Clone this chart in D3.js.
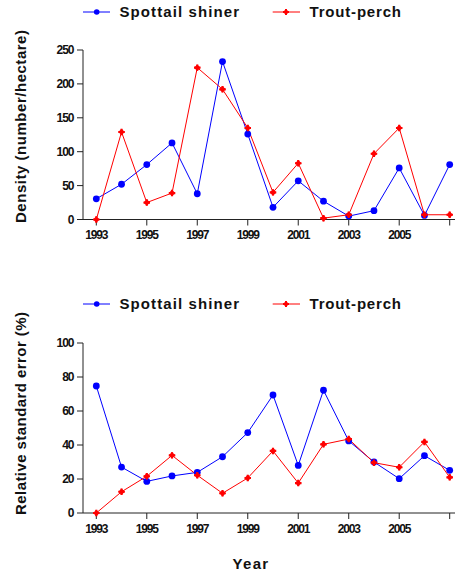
<!DOCTYPE html>
<html><head><meta charset="utf-8">
<script src="https://cdn.jsdelivr.net/npm/d3@7"></script>
<style>
body{margin:0;background:#fff;}
svg{display:block;font-family:"Liberation Sans",Arial,sans-serif;}
</style></head>
<body><svg id="c" width="456" height="575"></svg>
<script>
const years = [1993,1994,1995,1996,1997,1998,1999,2000,2001,2002,2003,2004,2005,2006,2007];
const tickYears = [1993,1995,1997,1999,2001,2003,2005,2007];
const tickLabels = ["1993","1995","1997","1999","2001","2003","2005",""];
const densitySpottail = [30.5,52,81,113,38,233,126,18,57,27,5,13,76,6,81];
const densityTrout = [0,129,25,39,224,192,135,40,83,2,7,97,135,7,7];
const rseSpottail = [74.7,27,18.6,21.8,23.9,33.1,47.3,69.4,28,72.2,42.4,30,20.2,33.7,25.1];
const rseTrout = [0,12.5,21.6,33.9,22.2,11.6,20.6,36.5,17.6,40.4,43.5,29.6,26.9,41.8,21];
const densityTicks = [0,50,100,150,200,250];
const rseTicks = [0,20,40,60,80,100];
const seriesNames = ["Spottail shiner","Trout-perch"];
const colors = ["#0000ff","#ff0000"];

const svg = d3.select("#c");
const x = d3.scaleLinear().domain([1993,2007]).range([96.3,449.7]);

function redMarker(g, cx, cy, s){
  g.append("path").attr("d", d3.symbol(d3.symbolSquare, s*s)())
    .attr("transform", `translate(${cx},${cy}) rotate(45)`).attr("fill", colors[1]);
  g.append("path").attr("d", d3.symbol(d3.symbolCross, s*s*1.1)())
    .attr("transform", `translate(${cx},${cy})`).attr("fill", colors[1]);
}

function legend(yb){
  const g = svg.append("g");
  const yl = yb - 5;
  g.append("line").attr("x1",83).attr("x2",110).attr("y1",yl).attr("y2",yl).attr("stroke",colors[0]).attr("stroke-width",1);
  g.append("circle").attr("cx",96.7).attr("cy",yl).attr("r",2.8).attr("fill",colors[0]);
  g.append("text").attr("x",119.5).attr("y",yb).text(seriesNames[0])
    .attr("font-size",15).attr("font-weight","bold").attr("textLength",119.5).attr("lengthAdjust","spacing").attr("fill","#111");
  g.append("line").attr("x1",272.7).attr("x2",300).attr("y1",yl).attr("y2",yl).attr("stroke",colors[1]).attr("stroke-width",1);
  redMarker(g, 286, yl, 4.2);
  g.append("text").attr("x",309.5).attr("y",yb).text(seriesNames[1])
    .attr("font-size",15).attr("font-weight","bold").attr("textLength",91.5).attr("lengthAdjust","spacing").attr("fill","#111");
}

function panel(y, ticks, s1, s2, label, labelCenter, labelLen){
  const g = svg.append("g");
  const y0 = y.range()[0], yTop = y.range()[1];
  g.append("line").attr("x1",83).attr("x2",83).attr("y1",yTop).attr("y2",y0).attr("stroke","#222");
  ticks.forEach(t=>{
    g.append("line").attr("x1",77).attr("x2",83).attr("y1",y(t)).attr("y2",y(t)).attr("stroke","#222");
    g.append("text").attr("x",73.5).attr("y",y(t)+4.3).attr("text-anchor","end").text(t)
      .attr("font-size",12).attr("font-weight","bold").attr("letter-spacing","-1").attr("fill","#111");
  });
  g.append("line").attr("x1",83).attr("x2",455).attr("y1",y0).attr("y2",y0).attr("stroke","#222");
  tickYears.forEach((t,i)=>{
    g.append("line").attr("x1",x(t)).attr("x2",x(t)).attr("y1",y0).attr("y2",y0+6).attr("stroke","#222");
    g.append("text").attr("x",x(t)).attr("y",y0+19.5).attr("text-anchor","middle").text(tickLabels[i])
      .attr("font-size",12).attr("font-weight","bold").attr("letter-spacing","-1.2").attr("fill","#111");
  });
  g.append("text").attr("transform",`translate(26,${labelCenter}) rotate(-90)`).attr("text-anchor","middle")
    .text(label).attr("font-size",15).attr("font-weight","bold").attr("textLength",labelLen).attr("lengthAdjust","spacing").attr("fill","#111");
  const line = d3.line().x((d,i)=>x(years[i])).y(d=>y(d));
  g.append("path").datum(s1).attr("d",line).attr("fill","none").attr("stroke",colors[0]).attr("stroke-width",1);
  g.append("path").datum(s2).attr("d",line).attr("fill","none").attr("stroke",colors[1]).attr("stroke-width",1);
  s1.forEach((v,i)=>g.append("circle").attr("cx",x(years[i])).attr("cy",y(v)).attr("r",3.4).attr("fill",colors[0]));
  s2.forEach((v,i)=>redMarker(g, x(years[i]), y(v), 4.6));
}

legend(17);
panel(d3.scaleLinear().domain([0,250]).range([219.5,50]), densityTicks, densitySpottail, densityTrout,
  "Density (number/hectare)", 126.5, 193);
legend(309);
panel(d3.scaleLinear().domain([0,100]).range([513,343]), rseTicks, rseSpottail, rseTrout,
  "Relative standard error (%)", 413.5, 203);
svg.append("text").attr("x",251).attr("y",569).attr("text-anchor","middle").text("Year")
  .attr("font-size",15).attr("font-weight","bold").attr("letter-spacing","1.3").attr("fill","#111");
</script></body></html>
